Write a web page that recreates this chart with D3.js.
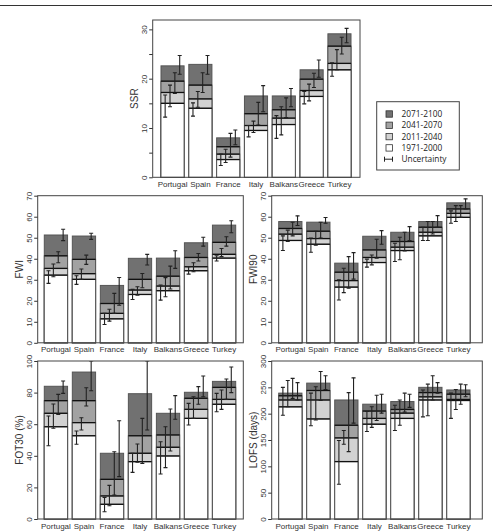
<!DOCTYPE html>
<html>
<head>
<meta charset="utf-8">
<script src="https://cdn.jsdelivr.net/npm/d3@7"></script>
<style>
body { margin: 0; background: #fff; }
svg { display: block; font-family: "Liberation Sans", Arial, sans-serif; }
</style>
</head>
<body>
<div id="chart"></div>
<script>
// Data: one row per region, columns = periods
const regions = ["Portugal", "Spain", "France", "Italy", "Balkans", "Greece", "Turkey"];
const periods = ["1971-2000", "2011-2040", "2041-2070", "2071-2100"];

const ssrMean = [[15.0,17.2,19.5,22.6],[14.0,15.9,18.7,22.9],[3.6,4.7,6.2,8.0],[9.5,10.5,12.9,16.5],[10.7,12.0,13.7,16.5],[16.4,17.6,19.9,21.8],[21.8,23.1,26.6,29.1]];
const ssrLow  = [[12.2,14.3,17.0,20.9],[12.4,14.2,17.2,20.9],[2.4,3.0,4.1,6.6],[8.2,9.1,10.6,13.3],[7.9,8.6,12.1,14.3],[14.9,15.5,18.2,20.3],[20.5,21.8,25.0,27.3]];
const ssrHigh = [[16.7,18.7,21.2,24.7],[15.1,17.4,21.2,24.7],[4.7,5.7,8.9,9.6],[10.5,11.4,15.2,18.6],[12.5,14.3,16.1,18.0],[17.4,18.9,21.1,23.8],[23.2,25.9,28.4,30.2]];

const fwiMean = [[32.2,35.4,41.4,51.3],[30.2,32.9,39.7,50.8],[11.4,14.0,18.7,27.3],[23.0,25.1,30.2,40.2],[24.8,27.0,31.7,40.3],[34.3,36.2,40.6,47.6],[40.3,42.1,47.8,56.0]];
const fwiLow  = [[28.3,31.4,38.1,48.6],[27.8,30.2,37.3,49.2],[8.7,10.3,14.0,17.9],[20.6,22.7,26.2,37.0],[20.3,21.9,25.6,35.4],[32.7,33.8,38.9,46.0],[38.9,41.0,46.0,52.4]];
const fwiHigh = [[34.3,37.5,43.3,54.0],[31.9,35.1,41.7,52.1],[14.0,16.0,23.5,31.1],[25.4,26.7,33.0,42.1],[27.5,31.0,36.5,43.8],[36.2,38.1,42.5,50.2],[41.4,44.9,50.5,58.1]];

const fwi90Mean = [[48.7,51.7,54.4,57.7],[46.9,49.6,53.1,57.4],[26.5,29.6,33.6,37.9],[38.2,40.6,44.2,50.7],[43.9,45.5,48.2,52.6],[50.9,52.6,55.0,57.7],[59.7,61.6,63.7,66.6]];
const fwi90Low  = [[43.9,48.2,50.9,55.8],[43.1,46.4,49.8,56.9],[20.4,23.9,26.0,30.3],[36.0,37.1,40.3,46.9],[38.7,39.5,43.7,48.7],[48.7,48.7,51.8,55.0],[56.9,57.7,59.7,63.7]];
const fwi90High = [[50.9,53.6,57.4,60.4],[49.9,53.1,57.4,59.6],[30.0,35.5,41.0,42.9],[39.8,41.8,49.3,53.4],[47.4,50.2,52.6,55.3],[55.0,57.7,57.7,60.5],[62.8,65.3,65.3,68.5]];

const fot30Mean = [[58.4,66.9,74.9,84.0],[52.7,61.0,74.9,93.0],[9.3,14.6,25.1,41.6],[36.3,41.6,52.7,79.3],[39.9,45.4,53.2,66.9],[63.7,69.4,76.4,80.2],[72.6,75.7,83.3,87.1]];
const fot30Low  = [[46.4,57.4,66.2,79.5],[47.3,56.3,71.5,81.2],[4.6,8.4,15.2,26.8],[29.5,35.9,35.2,56.3],[28.5,32.5,43.0,63.1],[59.5,63.7,72.6,77.4],[67.9,69.4,75.7,80.0]];
const fot30High = [[65.2,72.8,78.9,87.3],[55.7,64.1,83.1,100],[13.7,21.3,42.6,62.2],[41.6,47.5,63.7,100],[48.9,58.4,69.6,78.1],[73.2,77.4,83.8,90.5],[79.5,81.6,88.6,96.2]];

const lofsMean = [[213,226,234,239],[190,226,244,258],[109,154,178,226],[180,191,205,218],[191,201,208,223],[226,232,240,250],[225,227,237,245]];
const lofsLow  = [[197,213,229,226],[177,188,225,246],[66,142,128,182],[166,174,187,201],[168,178,203,212],[194,196,226,239],[191,208,218,232]];
const lofsHigh = [[250,263,267,259],[239,251,280,272],[149,168,240,268],[204,213,235,237],[216,226,239,237],[245,256,272,259],[239,246,256,255]];

const ssrTicks = [0, 5, 10, 15, 20, 25, 30];
const ssrTickLabels = [0, 10, 20, 30];
const fwiTicks = [0, 10, 20, 30, 40, 50, 60, 70];
const fot30Ticks = [0, 20, 40, 60, 80, 100];
const lofsTicks = [0, 50, 100, 150, 200, 250, 300];

// styles
const periodFill = ["#ffffff", "#d2d2d2", "#a2a2a2", "#717171"];
const W = 492, H = 532;

const svg = d3.select("#chart")
    .append("svg")
    .attr("width", W)
    .attr("height", H);

// rule at the very top of the figure
svg.append("line")
    .attr("x1", 0).attr("x2", W)
    .attr("y1", 5.5).attr("y2", 5.5)
    .attr("stroke", "#333")
    .attr("stroke-width", 1.2);

const panels = [
    { title: "SSR", mean: ssrMean, low: ssrLow, high: ssrHigh, yMax: 31.9, ticks: ssrTicks, labels: ssrTickLabels,
      left: 152.7, right: 360, top: 20, bottom: 177.3, barLeft: 161, barRight: 351 },
    { title: "FWI", mean: fwiMean, low: fwiLow, high: fwiHigh, yMax: 70, ticks: fwiTicks, labels: fwiTicks,
      left: 37.7, right: 243.3, top: 195.7, bottom: 342.8, barLeft: 44.3, barRight: 235.7 },
    { title: "FWI90", mean: fwi90Mean, low: fwi90Low, high: fwi90High, yMax: 70, ticks: fwiTicks, labels: fwiTicks,
      left: 271.7, right: 482.3, top: 195.7, bottom: 342.8, barLeft: 278.7, barRight: 470 },
    { title: "FOT30 (%)", mean: fot30Mean, low: fot30Low, high: fot30High, yMax: 100, ticks: fot30Ticks, labels: fot30Ticks,
      left: 37.7, right: 243.3, top: 361, bottom: 519, barLeft: 44.3, barRight: 235.7 },
    { title: "LOFS (days)", mean: lofsMean, low: lofsLow, high: lofsHigh, yMax: 300, ticks: lofsTicks, labels: lofsTicks,
      left: 271.7, right: 482.3, top: 361, bottom: 519, barLeft: 278.7, barRight: 470 }
];

panels.forEach((p, pi) => drawPanel(p, pi));

function drawPanel(p, pi) {
    const g = svg.append("g");

    const x = d3.scaleBand()
        .domain(regions)
        .range([p.barLeft, p.barRight])
        .paddingInner(0.17)
        .paddingOuter(0);

    const y = d3.scaleLinear()
        .domain([0, p.yMax])
        .range([p.bottom, p.top]);

    const clipId = "clip" + pi;
    g.append("clipPath")
        .attr("id", clipId)
        .append("rect")
        .attr("x", p.left).attr("y", p.top)
        .attr("width", p.right - p.left)
        .attr("height", p.bottom - p.top);

    // overlapping bars, latest period drawn first
    regions.forEach((r, i) => {
        for (let k = periods.length - 1; k >= 0; k--) {
            g.append("rect")
                .attr("x", x(r))
                .attr("y", y(p.mean[i][k]))
                .attr("width", x.bandwidth())
                .attr("height", y(0) - y(p.mean[i][k]))
                .attr("fill", periodFill[k])
                .attr("stroke", "#555")
                .attr("stroke-width", 1);
            if (k < periods.length - 1) {
                g.append("line")
                    .attr("x1", x(r)).attr("x2", x(r) + x.bandwidth())
                    .attr("y1", y(p.mean[i][k])).attr("y2", y(p.mean[i][k]))
                    .attr("stroke", "#111")
                    .attr("stroke-width", 1.3);
            }
        }
    });

    // uncertainty bars
    const eb = g.append("g").attr("clip-path", `url(#${clipId})`)
        .attr("stroke", "#222")
        .attr("stroke-width", 1.1);
    regions.forEach((r, i) => {
        periods.forEach((per, k) => {
            const cx = x(r) + x.bandwidth() * (0.18 + 0.21 * k);
            const y1 = y(p.low[i][k]), y2 = y(p.high[i][k]);
            eb.append("line").attr("x1", cx).attr("x2", cx).attr("y1", y1).attr("y2", y2);
            eb.append("line").attr("x1", cx - 2).attr("x2", cx + 2).attr("y1", y1).attr("y2", y1);
            eb.append("line").attr("x1", cx - 2).attr("x2", cx + 2).attr("y1", y2).attr("y2", y2);
        });
    });

    // plot box
    g.append("rect")
        .attr("x", p.left).attr("y", p.top)
        .attr("width", p.right - p.left)
        .attr("height", p.bottom - p.top)
        .attr("fill", "none")
        .attr("stroke", "#444")
        .attr("stroke-width", 1);

    // y axis
    const axis = g.append("g")
        .attr("transform", `translate(${p.left},0)`)
        .call(d3.axisLeft(y)
            .tickValues(p.ticks)
            .tickSize(3.5)
            .tickFormat(d => p.labels.includes(d) ? d : ""));
    axis.select(".domain").remove();
    axis.selectAll("line").attr("stroke", "#333");
    axis.selectAll("text")
        .attr("transform", "rotate(-90)")
        .attr("x", 0)
        .attr("y", -6)
        .attr("dy", 0)
        .attr("text-anchor", "middle")
        .attr("fill", "#333")
        .style("font-size", "8px")
        .style("font-family", "'Liberation Sans', Arial, sans-serif");

    // axis title
    g.append("text")
        .attr("transform", `translate(${p.left - 15},${(p.top + p.bottom) / 2}) rotate(-90)`)
        .attr("text-anchor", "middle")
        .attr("fill", "#333")
        .style("font-size", "10px")
        .text(p.title);

    // region labels
    g.selectAll(".region")
        .data(regions)
        .enter().append("text")
        .attr("class", "region")
        .attr("x", d => x(d) + x.bandwidth() / 2)
        .attr("y", p.bottom + 9.5)
        .attr("text-anchor", "middle")
        .attr("fill", "#333")
        .style("font-size", "8px")
        .text(d => d);
}

// legend
const legend = svg.append("g");
legend.append("rect")
    .attr("x", 376.7).attr("y", 101.7)
    .attr("width", 82.6).attr("height", 68.3)
    .attr("fill", "#fff")
    .attr("stroke", "#444")
    .attr("stroke-width", 1);

const legendItems = periods.slice().reverse();
legendItems.forEach((per, j) => {
    const k = periods.length - 1 - j;
    const cy = 114 + j * 11.3;
    legend.append("rect")
        .attr("x", 386).attr("y", cy - 3.2)
        .attr("width", 6.4).attr("height", 6.4)
        .attr("fill", periodFill[k])
        .attr("stroke", "#333")
        .attr("stroke-width", 0.8);
    legend.append("text")
        .attr("x", 401.5).attr("y", cy + 3)
        .attr("fill", "#222")
        .style("font-family", "'Open Sans', sans-serif")
        .style("font-size", "8.3px")
        .text(per);
});
const uy = 114 + 4 * 11.3;
legend.append("path")
    .attr("d", `M384.5,${uy}H392.5M384.5,${uy - 2.5}V${uy + 2.5}M392.5,${uy - 2.5}V${uy + 2.5}`)
    .attr("stroke", "#222")
    .attr("stroke-width", 1)
    .attr("fill", "none");
legend.append("text")
    .attr("x", 401.5).attr("y", uy + 3)
    .attr("fill", "#222")
    .style("font-family", "'Open Sans', sans-serif")
    .style("font-size", "8.3px")
    .text("Uncertainty");
</script>
</body>
</html>
